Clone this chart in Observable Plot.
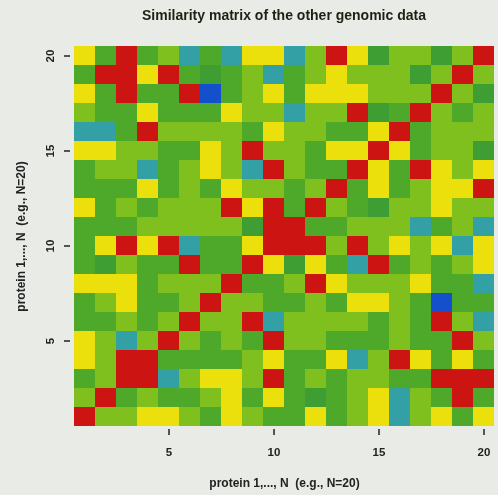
<!DOCTYPE html>
<html><head><meta charset="utf-8">
<script src="https://cdn.jsdelivr.net/npm/d3@7"></script>
<script src="https://cdn.jsdelivr.net/npm/@observablehq/plot@0.6"></script>
<style>
body{margin:0;background:#e8ebe6;font-family:"Liberation Sans",Arial,sans-serif;}
#title{height:30px;line-height:31px;padding-left:70px;width:428px;text-align:center;font-weight:bold;font-size:14px;color:#1f2014;filter:blur(0.4px);}
#chart svg{display:block;filter:blur(0.5px);}
</style></head><body>
<div id="title">Similarity matrix of the other genomic data</div>
<div id="chart"></div>
<script>
const proteins = [1,2,3,4,5,6,7,8,9,10,11,12,13,14,15,16,17,18,19,20];
// similarity rows, protein 1 (bottom) to protein 20 (top); columns protein 1..20
const row01 = [1,.6,.6,.8,.8,.6,.5,.8,.6,.5,.5,.8,.5,.6,.8,.2,.6,.8,.5,.8];
const row02 = [.6,1,.5,.6,.5,.5,.6,.8,.5,.8,.5,.4,.5,.6,.8,.2,.6,.5,1,.5];
const row03 = [.5,.6,1,1,.2,.6,.8,.8,.6,1,.5,.6,.5,.6,.6,.5,.5,1,1,1];
const row04 = [.8,.6,1,1,.5,.5,.5,.5,.6,.8,.5,.5,.8,.2,.6,1,.8,.5,.8,.5];
const row05 = [.8,.6,.2,.6,1,.6,.5,.6,.5,1,.6,.6,.5,.5,.5,.6,.5,.5,1,.6];
const row06 = [.5,.5,.6,.5,.6,1,.6,.6,1,.2,.6,.6,.6,.6,.5,.6,.5,1,.6,.2];
const row07 = [.5,.6,.8,.5,.5,.6,1,.6,.6,.5,.5,.6,.5,.8,.8,.6,.5,0,.5,.5];
const row08 = [.8,.8,.8,.5,.6,.6,.6,1,.5,.5,.6,1,.8,.6,.6,.6,.8,.5,.5,.2];
const row09 = [.5,.4,.6,.5,.5,1,.5,.5,1,.8,.4,.8,.5,.2,1,.5,.6,.5,.6,.8];
const row10 = [.5,.8,1,.8,1,.2,.5,.5,.8,1,1,1,.6,1,.6,.8,.6,.8,.2,.8];
const row11 = [.5,.5,.5,.6,.6,.6,.6,.6,.4,1,1,.5,.5,.6,.6,.6,.2,.5,.6,.2];
const row12 = [.8,.5,.6,.5,.6,.6,.6,1,.8,1,.5,1,.6,.5,.4,.6,.6,.8,.6,.6];
const row13 = [.5,.5,.5,.8,.5,.6,.5,.8,.6,.6,.5,.6,1,.5,.8,.5,.6,.8,.8,1];
const row14 = [.5,.6,.6,.2,.5,.6,.8,.6,.2,1,.6,.5,.5,1,.8,.5,1,.8,.6,.8];
const row15 = [.8,.8,.6,.6,.5,.5,.8,.6,1,.6,.6,.5,.8,.8,1,.8,.5,.6,.6,.4];
const row16 = [.2,.2,.5,1,.6,.6,.6,.6,.5,.8,.6,.6,.5,.5,.8,1,.5,.6,.6,.6];
const row17 = [.6,.5,.5,.8,.5,.5,.5,.8,.6,.6,.2,.6,.6,1,.4,.5,1,.6,.5,.6];
const row18 = [.8,.5,1,.5,.5,1,0,.5,.6,.8,.5,.8,.8,.8,.6,.6,.6,1,.6,.4];
const row19 = [.5,1,1,.8,1,.5,.4,.5,.6,.2,.5,.6,.8,.6,.6,.6,.4,.6,1,.6];
const row20 = [.8,.5,1,.5,.6,.2,.5,.2,.8,.8,.2,.6,1,.8,.4,.6,.6,.4,.6,1];
const similarity = [row01,row02,row03,row04,row05,row06,row07,row08,row09,row10,
                    row11,row12,row13,row14,row15,row16,row17,row18,row19,row20];
const colorBreaks = [0.1,0.3,0.45,0.55,0.7,0.9];
const colorRange = ["#1450cc","#32a0a4","#3e9e34","#4ea82a","#80c01e","#ebe00c","#cc1412"];
const tickValues = [5,10,15,20];
const axisTitle = "protein 1,..., N  (e.g., N=20)";

const cells = similarity.flatMap((row, i) => row.map((v, j) => ({x: proteins[j], y: proteins[i], v})));

const chart = Plot.plot({
  width: 498, height: 465,
  marginLeft: 70, marginRight: 0, marginTop: 13, marginBottom: 66,
  style: {background: "transparent", fontFamily: "'Liberation Sans', Arial, sans-serif", color: "#222"},
  x: {type: "band", domain: proteins, padding: 0, axis: null},
  y: {type: "band", domain: proteins.slice().reverse(), padding: 0, axis: null},
  color: {type: "threshold", domain: colorBreaks, range: colorRange},
  marks: [
    Plot.cell(cells, {x: "x", y: "y", fill: "v", inset: 0, shapeRendering: "crispEdges"}),
    Plot.axisX(tickValues, {anchor: "bottom", tickSize: 6, tickPadding: 12, fontSize: 11.5, fontWeight: "bold", strokeWidth: 1.5, label: null}),
    Plot.axisY(tickValues, {anchor: "left", tickSize: 6, tickFormat: () => "", strokeWidth: 1.5, label: null}),
    Plot.text(tickValues, {y: d => d, text: d => String(d), frameAnchor: "left", textAnchor: "middle", lineAnchor: "middle", dx: -20, rotate: -90, fontSize: 11.5, fontWeight: "bold"}),
    Plot.text([axisTitle], {text: d => d, frameAnchor: "bottom", textAnchor: "middle", lineAnchor: "middle", dy: 54, fontSize: 12, fontWeight: "bold"}),
    Plot.text([axisTitle], {text: d => d, frameAnchor: "left", textAnchor: "middle", lineAnchor: "middle", dx: -49, rotate: -90, fontSize: 12, fontWeight: "bold"})
  ]
});
document.getElementById("chart").append(chart);
</script>
</body></html>
